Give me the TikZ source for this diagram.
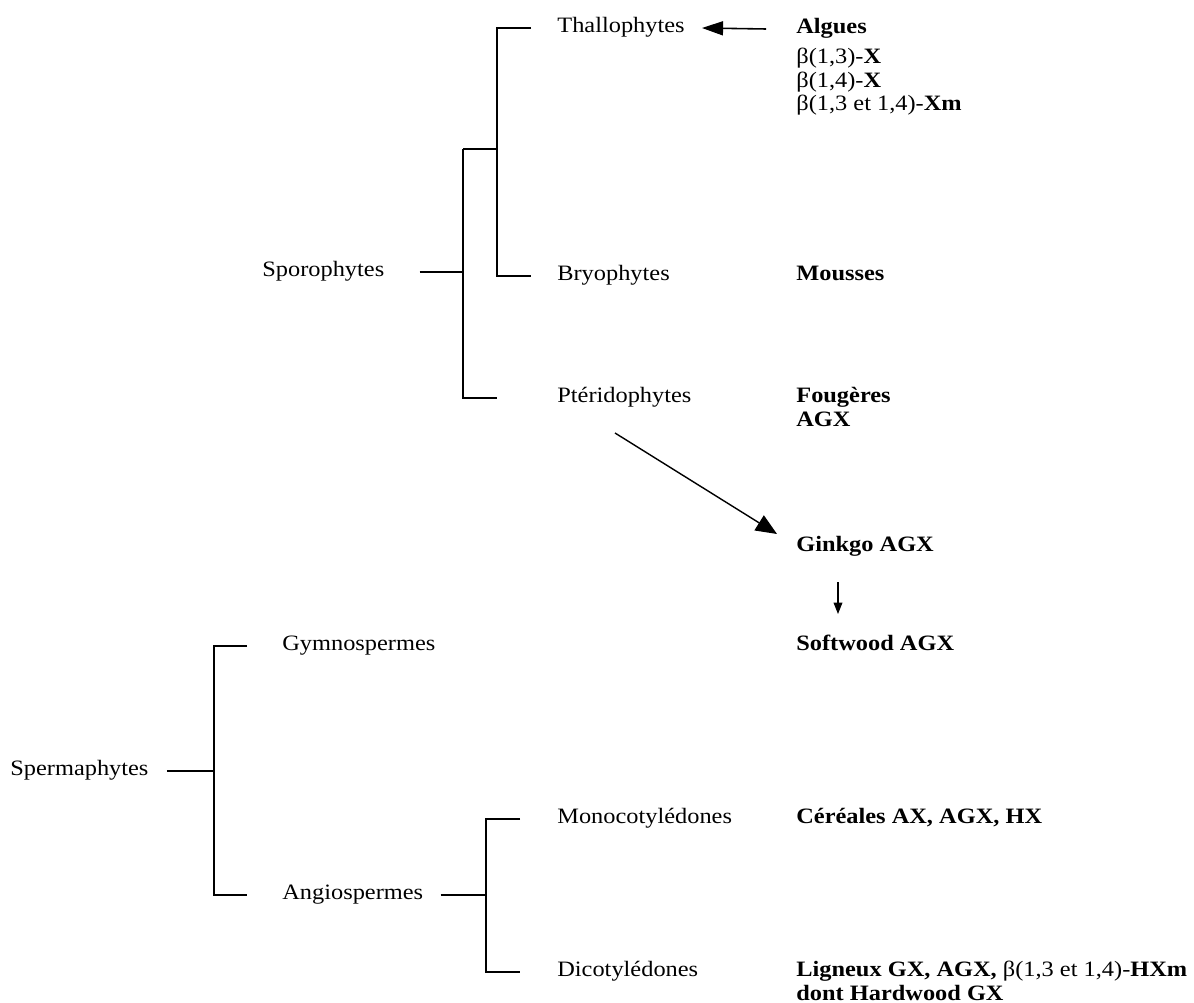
\documentclass[tikz,border=0pt]{standalone}
\usepackage{fontspec}
\setmainfont{Liberation Serif}[FakeStretch=1.11]
\usepackage{tikz}
\usetikzlibrary{positioning}
\usetikzlibrary{arrows.meta}

\begin{document}
\begin{tikzpicture}
			[x=0.02cm,y=-0.02cm,every node/.style={inner sep=0pt,anchor=west,font=\fontsize{12.5}{15}\selectfont,text height=1.55ex,text depth=.45ex},
			tree/.style={line width=1pt,color=black},
			arr/.style={line width=0.9pt,color=black}]
			\useasboundingbox (0,0) rectangle (1194,1003);
			% sporophytes
			\node (spo) at (262, 272) {Sporophytes};
			\node (thallo) at (557, 28) {Thallophytes};
			\node (bryo) at (557, 276) {Bryophytes};
			\node (pteri) at (557, 398) {Ptéridophytes};
			\node (algues) at (796, 29) {\textbf{Algues}};
			\node (b13) at (796, 59) {β(1,3)-\textbf{X}};
			\node (b14) at (796, 83) {β(1,4)-\textbf{X}};
			\node (b134) at (796, 106) {β(1,3 et 1,4)-\textbf{Xm}};
			\node (mousses) at (796, 276) {\textbf{Mousses}};
			\node (fougeres) at (796, 398) {\textbf{Fougères}};
			\node (agx) at (796, 422) {\textbf{AGX}};
			\node (ginkgo) at (796, 547) {\textbf{Ginkgo AGX}};
			\node (softwood) at (796, 646) {\textbf{Softwood AGX}};
			% spermaphytes
			\node (sperma) at (10, 771) {Spermaphytes};
			\node (gymno) at (282, 646) {Gymnospermes};
			\node (angio) at (282, 895) {Angiospermes};
			\node (mono) at (557, 819) {Monocotylédones};
			\node (dicot) at (557, 972) {Dicotylédones};
			\node (cereales) at (796, 819) {\textbf{Céréales AX, AGX, HX}};
			\node (ligneux) at (796, 972) {\textbf{Ligneux GX, AGX,} β(1,3 et 1,4)-\textbf{HXm}};
			\node (dont) at (796, 996) {\textbf{dont Hardwood GX}};
			\coordinate (j1) at (497, 149);
			\coordinate (j2) at (463, 149);
			\coordinate (k1) at (214, 771);
			\coordinate (k2) at (486, 895);
			\coordinate (d1) at (615, 433);
			\coordinate (g1) at (838, 582);
			\coordinate (g2) at (838, 614);
			\draw [tree] ([xshift=-0.52cm]thallo.west) -| (j1) |- ([xshift=-0.52cm]bryo.west);
			\draw [tree] (j1) -- (j2);
			\draw [tree] (j2) |- ([xshift=-1.2cm]pteri.west);
			\draw [tree] ([xshift=0.7cm]spo.east) -- (spo.east -| j2);
			\draw [tree] ([xshift=-0.7cm]gymno.west) -| (k1) |- ([xshift=-0.7cm]angio.west);
			\draw [tree] ([xshift=0.36cm]sperma.east) -- (k1);
			\draw [tree] ([xshift=-0.74cm]mono.west) -| (k2) |- ([xshift=-0.74cm]dicot.west);
			\draw [tree] ([xshift=0.34cm]angio.east) -- (k2);
			\draw [arr,-{Triangle[length=12pt,width=8pt]}] ([xshift=-0.6cm]algues.west) -- ([xshift=0.34cm]thallo.east);
			\draw [arr,line width=0.8pt,-{Triangle[length=12pt,width=10pt]}] (d1) -- ([shift={(-19,-13)}]ginkgo.west);
			\draw [arr,line width=0.6pt,-{Triangle[length=6.5pt,width=5pt]}] (g1) -- (g2);
		\end{tikzpicture}
\end{document}
